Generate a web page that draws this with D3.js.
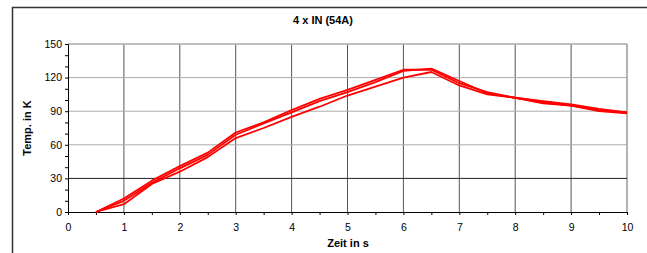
<!DOCTYPE html>
<html><head><meta charset="utf-8">
<script src="https://cdn.jsdelivr.net/npm/d3@7"></script>
<style>body{margin:0;background:#fff;}svg{display:block;font-family:"Liberation Sans",Arial,sans-serif;}</style>
</head><body>
<script>
const times = [0.5,1,1.5,2,2.5,3,3.5,4,4.5,5,5.5,6,6.5,7,7.5,8,8.5,9,9.5,10];
const series1 = [0,12,28,41,53,71,80,91,101,109,118,127,127,115,107,102,98,95,91,89];
const series2 = [0,10,26,39,51,69,79,89,99,107,116,126,128,117,106,102,99,96,92,89];
const series3 = [0,7,25,36,49,66,75,85,94,104,112,120,125,113,105,102,97,95,90,88];
const xTicks = [0,1,2,3,4,5,6,7,8,9,10];
const yTicks = [0,30,60,90,120,150];
const title = "4 x IN (54A)";
const xLabel = "Zeit in s";
const yLabel = "Temp. in K";

const W = 647, H = 253;
const svg = d3.select("body").append("svg").attr("width", W).attr("height", H);
// outer frame
svg.append("path").attr("d", `M12.5,${H+2} L12.5,7.5 L${W+2},7.5`).attr("fill","none").attr("stroke","#333").attr("stroke-width",1.5);

const x = d3.scaleLinear().domain([0,10]).range([68,627]);
const y = d3.scaleLinear().domain([0,150]).range([212,44]);

// gridlines
svg.append("g").selectAll("line").data(xTicks.slice(1)).join("line")
  .attr("x1", d=>x(d)).attr("x2", d=>x(d)).attr("y1", y(0)).attr("y2", y(150))
  .attr("stroke", d=> d===10 ? "#999" : "#555").attr("stroke-width", d=> d===10 ? 1.5 : 1);
svg.append("g").selectAll("line").data(yTicks.slice(1)).join("line")
  .attr("x1", x(0)).attr("x2", x(10)).attr("y1", d=>y(d)).attr("y2", d=>y(d))
  .attr("stroke", d=> d===30 ? "#222" : "#aaa").attr("stroke-width", d=> d===150 ? 1.5 : 1);

// axes
const yAxis = d3.axisLeft(y).tickValues(d3.range(0,151,10)).tickSize(3)
  .tickFormat(d => yTicks.includes(d) ? d : "");
const gy = svg.append("g").attr("transform", `translate(${x(0)},0)`).call(yAxis);
gy.selectAll("text").attr("font-size", 10.5).attr("fill","#000").attr("x",-6);
gy.select(".domain").attr("stroke","#000");
gy.selectAll(".tick line").attr("stroke","#000");

const xAxis = d3.axisBottom(x).tickValues(d3.range(0,10.01,0.5)).tickSize(3)
  .tickFormat(d => Number.isInteger(d) ? d : "");
const gx = svg.append("g").attr("transform", `translate(0,${y(0)})`).call(xAxis);
gx.selectAll("text").attr("font-size", 10.5).attr("fill","#000").attr("dy","1.2em");
gx.select(".domain").attr("stroke","#000");
gx.selectAll(".tick line").attr("stroke","#000");

// lines
const line = d3.line().x((d,i)=>x(times[i])).y(d=>y(d));
[series1, series2, series3].forEach(s => {
  svg.append("path").datum(s).attr("d", line).attr("fill","none")
    .attr("stroke","#ff0000").attr("stroke-width",1.8).attr("stroke-linejoin","round");
});

// texts
svg.append("text").attr("x", 323).attr("y", 24).attr("text-anchor","middle")
  .attr("font-size", 11).attr("font-weight","bold").text(title);
svg.append("text").attr("x", 348).attr("y", 247).attr("text-anchor","middle")
  .attr("font-size", 11).attr("font-weight","bold").text(xLabel);
svg.append("text").attr("transform", `translate(31,128) rotate(-90)`).attr("text-anchor","middle")
  .attr("font-size", 11).attr("font-weight","bold").text(yLabel);
</script>
</body></html>
